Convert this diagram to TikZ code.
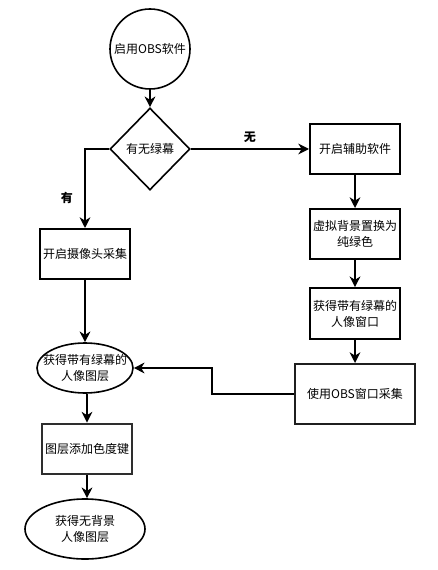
\documentclass[tikz,border=0pt]{standalone}
\usepackage{fontspec}
\setmainfont{Noto Sans CJK SC}
\usetikzlibrary{arrows.meta,shapes.geometric}

\begin{document}
\begin{tikzpicture}[x=0.75pt,y=-0.75pt,
    font=\fontsize{9}{12}\selectfont,
    box/.style={draw, line width=1.5pt, align=center, inner sep=1pt,
        minimum width=67.5pt, minimum height=37.5pt},
    oval/.style={draw, ellipse, line width=1.2pt, align=center,
        inner xsep=-8pt, inner ysep=0pt},
    arr/.style={-{Stealth[length=8pt,width=8pt,inset=2.5pt]}, line width=1.5pt},
    tag/.style={font=\fontsize{9}{12}\selectfont\bfseries}]
    \useasboundingbox (0,0) rectangle (438,570);

    % start and decision
    \node[draw, circle, line width=1.2pt, minimum size=60pt, inner sep=0pt] (start) at (150,49) {启用OBS软件};
    \node[draw, diamond, line width=1.2pt, inner sep=0pt, minimum width=60pt, minimum height=61.5pt] (ask) at (150,149) {有无绿幕};

    % left column
    \node[box] (camera) at (85,254) {开启摄像头采集};
    \node[oval, minimum width=72pt, minimum height=37.5pt] (layer) at (85,368) {获得带有绿幕的\\人像图层};
    \node[box, draw=black!82, line width=1.7pt, minimum width=68pt, minimum height=38pt] (chroma) at (87,449) {图层添加色度键};
    \node[oval, minimum width=90pt, minimum height=45pt] (result) at (85,529) {获得无背景\\人像图层};

    % right column
    \node[box] (helper) at (355,149) {开启辅助软件};
    \node[box] (greenbg) at (355,234) {虚拟背景置换为\\纯绿色};
    \node[box, minimum height=38pt] (window) at (355,313.5) {获得带有绿幕的\\人像窗口};
    \node[box, draw=black!88, minimum width=90pt, minimum height=45pt] (capture) at (355,394) {使用OBS窗口采集};

    % connectors
    \draw[arr] (start) -- (ask);
    \draw[arr] (ask.east) -- node[tag, above=1pt] {无} (helper.west);
    \draw[arr] (ask.west) -| node[tag, pos=0.81, left=5pt] {有} (camera.north);
    \draw[arr] (camera) -- (layer);
    \draw[arr] (layer.south -| chroma.north) -- (chroma.north);
    \draw[arr] (chroma.south) -- (chroma.south |- result.north);
    \draw[arr] (helper) -- (greenbg);
    \draw[arr] (greenbg) -- (window);
    \draw[arr] (window) -- (capture);
    \draw[arr] (capture.west) -- ++(-82,0) |- (layer.east);
\end{tikzpicture}
\end{document}
